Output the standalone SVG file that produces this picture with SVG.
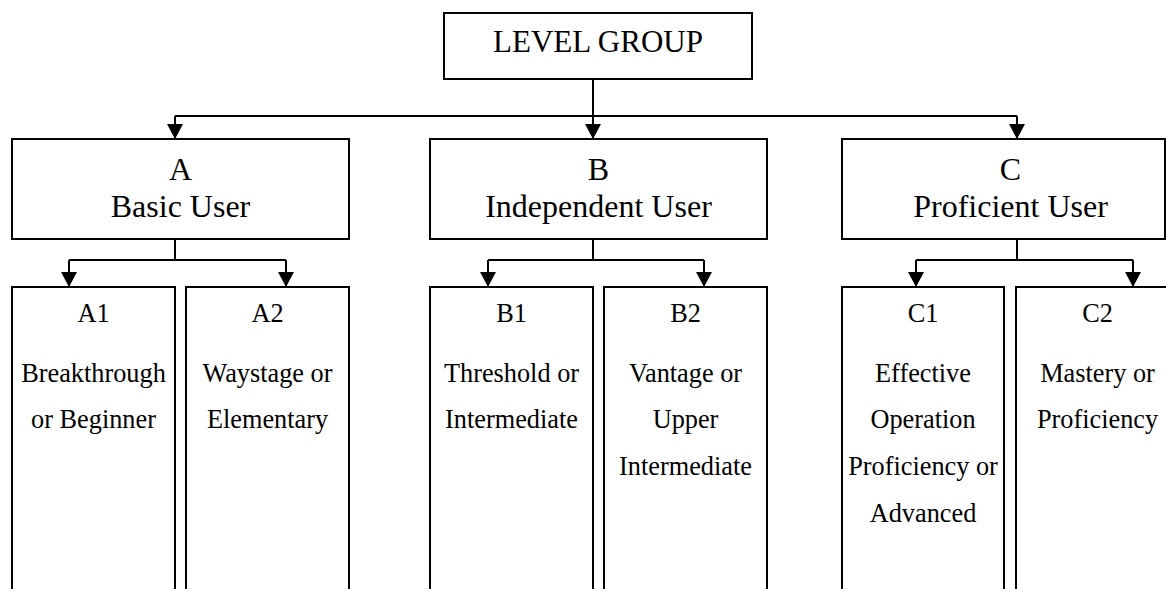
<svg xmlns="http://www.w3.org/2000/svg" width="1166" height="589" viewBox="0 0 1166 589">
<style>
.box{fill:#fff;stroke:#000;stroke-width:2}
.t{font-family:"Liberation Serif","Times New Roman",serif;fill:#000;text-anchor:middle}
.top{font-size:31px}
.mid{font-size:32px}
.leaf{font-size:26.3px}
.c{fill:none;stroke:#000;stroke-width:2}
</style>
<defs>
<marker id="ah" markerUnits="userSpaceOnUse" markerWidth="16" markerHeight="16" refX="14" refY="7.5" orient="auto" viewBox="0 0 14 15">
<path d="M0,0 L14,7.5 L0,15 z" fill="#000"/>
</marker>
</defs>
<rect width="1166" height="589" fill="#fff"/>
<g id="connectors">
<path class="c" d="M593,79 V116 M175,116 H1017"/>
<path class="c" d="M175,116 V139" marker-end="url(#ah)"/>
<path class="c" d="M593,116 V139" marker-end="url(#ah)"/>
<path class="c" d="M1017,116 V139" marker-end="url(#ah)"/>
<path class="c" d="M175,239 V260 M69,260 H286"/>
<path class="c" d="M69,260 V287" marker-end="url(#ah)"/>
<path class="c" d="M286,260 V287" marker-end="url(#ah)"/>
<path class="c" d="M593,239 V260 M488,260 H704"/>
<path class="c" d="M488,260 V287" marker-end="url(#ah)"/>
<path class="c" d="M704,260 V287" marker-end="url(#ah)"/>
<path class="c" d="M1017,239 V260 M916,260 H1133"/>
<path class="c" d="M916,260 V287" marker-end="url(#ah)"/>
<path class="c" d="M1133,260 V287" marker-end="url(#ah)"/>
</g>
<g id="level-group">
<rect class="box" x="444" y="13" width="308" height="66"/>
<text class="t top" x="598" y="52">LEVEL GROUP</text>
</g>
<g id="A">
<rect class="box" x="12" y="139" width="337" height="100"/>
<text class="t mid" x="180.5" y="180">A</text>
<text class="t mid" x="180.5" y="216.7">Basic User</text>
</g>
<g id="B">
<rect class="box" x="430" y="139" width="337" height="100"/>
<text class="t mid" x="598.5" y="180">B</text>
<text class="t mid" x="598.5" y="216.7">Independent User</text>
</g>
<g id="C">
<rect class="box" x="842" y="139" width="323" height="100"/>
<text class="t mid" x="1010.5" y="180">C</text>
<text class="t mid" x="1010.5" y="216.7">Proficient User</text>
</g>
<g id="A1">
<rect class="box" x="12" y="287" width="163" height="320"/>
<text class="t leaf" x="93.5" y="321.7">A1</text>
<text class="t leaf" x="93.5" y="381.7">Breakthrough</text>
<text class="t leaf" x="93.5" y="428.3">or Beginner</text>
</g>
<g id="A2">
<rect class="box" x="186" y="287" width="163" height="320"/>
<text class="t leaf" x="267.5" y="321.7">A2</text>
<text class="t leaf" x="267.5" y="381.7">Waystage or</text>
<text class="t leaf" x="267.5" y="428.3">Elementary</text>
</g>
<g id="B1">
<rect class="box" x="430" y="287" width="163" height="320"/>
<text class="t leaf" x="511.5" y="321.7">B1</text>
<text class="t leaf" x="511.5" y="381.7">Threshold or</text>
<text class="t leaf" x="511.5" y="428.3">Intermediate</text>
</g>
<g id="B2">
<rect class="box" x="604" y="287" width="163" height="320"/>
<text class="t leaf" x="685.5" y="321.7">B2</text>
<text class="t leaf" x="685.5" y="381.7">Vantage or</text>
<text class="t leaf" x="685.5" y="428.3">Upper</text>
<text class="t leaf" x="685.5" y="475">Intermediate</text>
</g>
<g id="C1">
<rect class="box" x="842" y="287" width="162" height="320"/>
<text class="t leaf" x="923" y="321.7">C1</text>
<text class="t leaf" x="923" y="381.7">Effective</text>
<text class="t leaf" x="923" y="428.3">Operation</text>
<text class="t leaf" x="923" y="475">Proficiency or</text>
<text class="t leaf" x="923" y="521.7">Advanced</text>
</g>
<g id="C2">
<rect class="box" x="1016" y="287" width="163" height="320"/>
<text class="t leaf" x="1097.5" y="321.7">C2</text>
<text class="t leaf" x="1097.5" y="381.7">Mastery or</text>
<text class="t leaf" x="1097.5" y="428.3">Proficiency</text>
</g>
</svg>
